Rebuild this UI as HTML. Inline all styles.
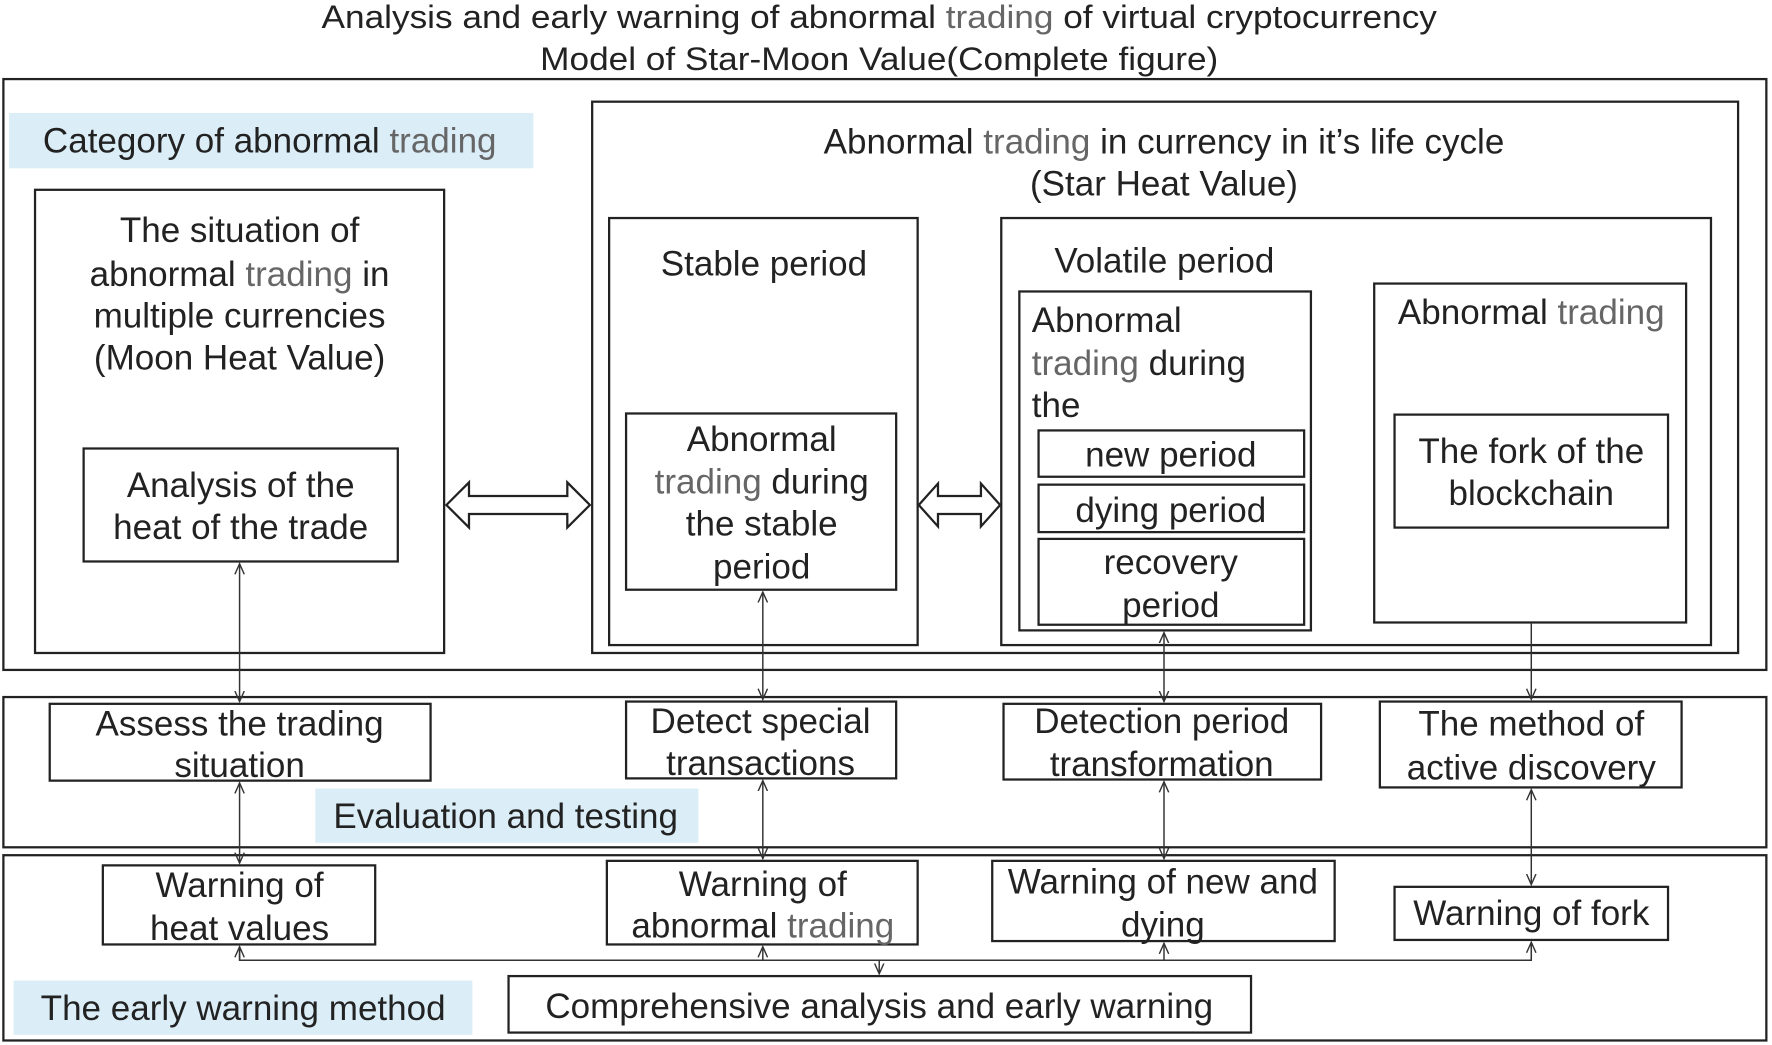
<!DOCTYPE html>
<html><head><meta charset="utf-8"><style>html,body{margin:0;padding:0;background:#fff}svg{display:block}</style></head><body>
<svg width="1772" height="1045" viewBox="0 0 1568 925" preserveAspectRatio="none" xmlns="http://www.w3.org/2000/svg">
<defs>
<marker id="a" viewBox="0 0 10 10" refX="9" refY="5" markerWidth="8" markerHeight="8" orient="auto-start-reverse"><path d="M0,1 L9,5 L0,9" fill="none" stroke="#333" stroke-width="1.2"/></marker>
</defs>
<g font-family="Liberation Sans, Arial, sans-serif" fill="#222" font-size="29">
<text x="778" y="25" text-anchor="middle" textLength="987" lengthAdjust="spacingAndGlyphs">Analysis and early warning of abnormal <tspan fill="#666">trading</tspan> of virtual cryptocurrency</text>
<text x="778" y="62" text-anchor="middle" textLength="600" lengthAdjust="spacingAndGlyphs">Model of Star-Moon Value(Complete figure)</text>
</g>
<g fill="none" stroke="#222" stroke-width="2">
<rect x="3" y="70" width="1560" height="523"/>
<rect x="31" y="168" width="362" height="410"/>
<rect x="74" y="397" width="278" height="100"/>
<rect x="524" y="90" width="1014" height="488"/>
<rect x="539" y="193" width="273" height="378"/>
<rect x="554" y="366" width="239" height="156"/>
<rect x="886" y="193" width="628" height="378"/>
<rect x="902" y="258" width="258" height="300"/>
<rect x="919" y="381" width="235" height="41"/>
<rect x="919" y="429" width="235" height="42"/>
<rect x="919" y="477" width="235" height="76"/>
<rect x="1216" y="251" width="276" height="300"/>
<rect x="1234" y="367" width="242" height="100"/>
<rect x="3" y="617" width="1560" height="133"/>
<rect x="44" y="623" width="337" height="68"/>
<rect x="554" y="621" width="239" height="68"/>
<rect x="888" y="623" width="281" height="67"/>
<rect x="1221" y="621" width="267" height="76"/>
<rect x="3" y="757" width="1560" height="164"/>
<rect x="91" y="766" width="241" height="70"/>
<rect x="537" y="762" width="275" height="74"/>
<rect x="878" y="762" width="303" height="71"/>
<rect x="1234" y="785" width="242" height="47"/>
<rect x="450" y="864" width="657" height="50"/>
</g>
<rect x="8" y="100" width="464" height="49" fill="#dbeef8"/>
<rect x="279" y="698" width="339" height="48" fill="#dbeef8"/>
<rect x="12" y="868" width="406" height="48" fill="#dbeef8"/>
<path d="M395,447 L415,427 L415,439 L502,439 L502,427 L522,447 L502,467 L502,455 L415,455 L415,467 Z" fill="#fff" stroke="#222" stroke-width="2"/>
<path d="M813,447 L830,428 L830,439 L868,439 L868,428 L885,447 L868,466 L868,455 L830,455 L830,466 Z" fill="#fff" stroke="#222" stroke-width="2"/>
<g stroke="#333" stroke-width="1.3" fill="none">
<line x1="212" y1="499" x2="212" y2="621" marker-start="url(#a)" marker-end="url(#a)"/>
<line x1="212" y1="693" x2="212" y2="764" marker-start="url(#a)" marker-end="url(#a)"/>
<line x1="675" y1="524" x2="675" y2="619" marker-start="url(#a)" marker-end="url(#a)"/>
<line x1="675" y1="691" x2="675" y2="760" marker-start="url(#a)" marker-end="url(#a)"/>
<line x1="1030" y1="560" x2="1030" y2="621" marker-start="url(#a)" marker-end="url(#a)"/>
<line x1="1030" y1="692" x2="1030" y2="760" marker-start="url(#a)" marker-end="url(#a)"/>
<line x1="1355" y1="551" x2="1355" y2="619" marker-end="url(#a)"/>
<line x1="1355" y1="699" x2="1355" y2="783" marker-start="url(#a)" marker-end="url(#a)"/>
<polyline points="212,838 212,850 1355,850 1355,834"/>
<line x1="212" y1="850" x2="212" y2="838" marker-end="url(#a)"/>
<line x1="675" y1="850" x2="675" y2="838" marker-end="url(#a)"/>
<line x1="1030" y1="850" x2="1030" y2="835" marker-end="url(#a)"/>
<line x1="1355" y1="850" x2="1355" y2="834" marker-end="url(#a)"/>
<line x1="778" y1="850" x2="778" y2="862" marker-end="url(#a)"/>
</g>
<g font-family="Liberation Sans, Arial, sans-serif" fill="#222" font-size="31" text-anchor="middle">
<text x="38" y="135" text-anchor="start">Category of abnormal <tspan fill="#666">trading</tspan></text>
<text x="212" y="214">The situation of</text>
<text x="212" y="253">abnormal <tspan fill="#666">trading</tspan> in</text>
<text x="212" y="290">multiple currencies</text>
<text x="212" y="327">(Moon Heat Value)</text>
<text x="213" y="440">Analysis of the</text>
<text x="213" y="477">heat of the trade</text>
<text x="1030" y="136">Abnormal <tspan fill="#666">trading</tspan> in currency in it’s life cycle</text>
<text x="1030" y="173">(Star Heat Value)</text>
<text x="676" y="244">Stable period</text>
<text x="674" y="399">Abnormal</text>
<text x="674" y="437"><tspan fill="#666">trading</tspan> during</text>
<text x="674" y="474">the stable</text>
<text x="674" y="512">period</text>
<text x="933" y="241" text-anchor="start">Volatile period</text>
<text x="913" y="294" text-anchor="start">Abnormal</text>
<text x="913" y="332" text-anchor="start"><tspan fill="#666">trading</tspan> during</text>
<text x="913" y="369" text-anchor="start">the</text>
<text x="1036" y="413">new period</text>
<text x="1036" y="462">dying period</text>
<text x="1036" y="508">recovery</text>
<text x="1036" y="546">period</text>
<text x="1355" y="287">Abnormal <tspan fill="#666">trading</tspan></text>
<text x="1355" y="410">The fork of the</text>
<text x="1355" y="447">blockchain</text>
<text x="212" y="651">Assess the trading</text>
<text x="212" y="688">situation</text>
<text x="673" y="649">Detect special</text>
<text x="673" y="686">transactions</text>
<text x="1028" y="649">Detection period</text>
<text x="1028" y="687">transformation</text>
<text x="1355" y="651">The method of</text>
<text x="1355" y="690">active discovery</text>
<text x="295" y="733" text-anchor="start">Evaluation and testing</text>
<text x="212" y="794">Warning of</text>
<text x="212" y="832">heat values</text>
<text x="675" y="793">Warning of</text>
<text x="675" y="830">abnormal <tspan fill="#666">trading</tspan></text>
<text x="1029" y="791">Warning of new and</text>
<text x="1029" y="829">dying</text>
<text x="1355" y="819">Warning of fork</text>
<text x="778" y="901">Comprehensive analysis and early warning</text>
<text x="36" y="903" text-anchor="start">The early warning method</text>
</g>
</svg>
</body></html>
